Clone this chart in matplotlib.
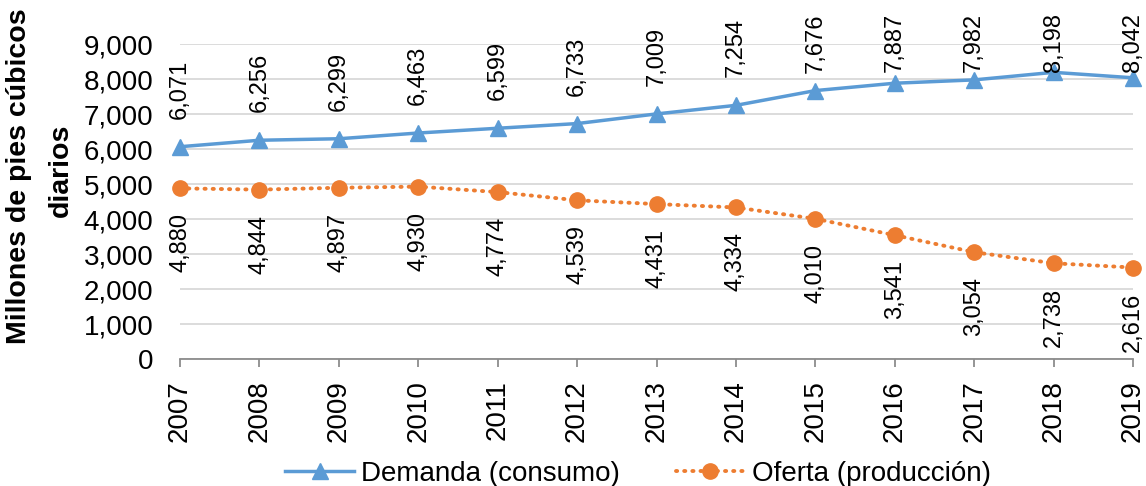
import matplotlib.pyplot as plt
from matplotlib.ticker import FuncFormatter

plt.rcParams['font.family'] = ['Liberation Sans', 'DejaVu Sans']

years = ["2007", "2008", "2009", "2010", "2011", "2012", "2013",
         "2014", "2015", "2016", "2017", "2018", "2019"]
demanda = [6071, 6256, 6299, 6463, 6599, 6733, 7009, 7254, 7676, 7887, 7982, 8198, 8042]
oferta = [4880, 4844, 4897, 4930, 4774, 4539, 4431, 4334, 4010, 3541, 3054, 2738, 2616]

AZUL = '#5B9BD5'
NARANJA = '#ED7D31'

fig = plt.figure(figsize=(11.46, 4.86), dpi=100)
ax = fig.add_axes([180/1146, 1 - 359/486, (1133 - 180)/1146, (359 - 44.3)/486])

x = list(range(len(years)))
ax.plot(x, demanda, color=AZUL, lw=2.5, marker='^', ms=11, clip_on=False,
        zorder=3, label='Demanda (consumo)')
ax.plot(x, oferta, color=NARANJA, lw=2.8, ls=(0, (0.3, 1.8)),
        dash_capstyle='round', marker='o', ms=11, clip_on=False,
        zorder=3, label='Oferta (producción)')

ax.set_xlim(0, len(years) - 1)
ax.set_ylim(0, 9000)
ax.set_yticks(range(0, 9001, 1000))
ax.yaxis.set_major_formatter(FuncFormatter(lambda v, p: f"{int(v):,}"))
ax.set_xticks(x)
ax.set_xticklabels(years, rotation=90)

ax.grid(axis='y', color='#D9D9D9', lw=1.3)
ax.set_axisbelow(True)
for s in ['top', 'right', 'left']:
    ax.spines[s].set_visible(False)
ax.spines['bottom'].set_color('#8C8C8C')
ax.spines['bottom'].set_linewidth(1.3)
ax.tick_params(axis='y', length=0, pad=19, labelsize=20)
ax.tick_params(axis='x', length=6, width=1.3, color='#8C8C8C', pad=9, labelsize=20)

# etiquetas de datos
px = 314.7 / 9000  # pixeles por unidad
for i, v in enumerate(demanda):
    top = min(v + (30 + 57) / px, (359 - 13) / px)
    ax.text(i, top, f"{v:,}", rotation=90, ha='center', va='top', clip_on=False, fontsize=17)
for i, v in enumerate(oferta):
    ax.text(i, v - 25 / px, f"{v:,}", rotation=90, ha='center', va='top', clip_on=False, fontsize=17)

fig.text(19/1146, 1 - 176/486, "Millones de pies cúbicos", rotation=90,
         ha='center', va='center', fontsize=20.5, fontweight='bold')
fig.text(61/1146, 1 - 170/486, "diarios", rotation=90,
         ha='center', va='center', fontsize=20.5, fontweight='bold')

fig.legend(loc='center', bbox_to_anchor=(638/1146, 12/486), ncol=2, frameon=False,
           fontsize=20, handlelength=2.5, handletextpad=0.25, columnspacing=2.0)

fig.savefig('out.png', dpi=100)
